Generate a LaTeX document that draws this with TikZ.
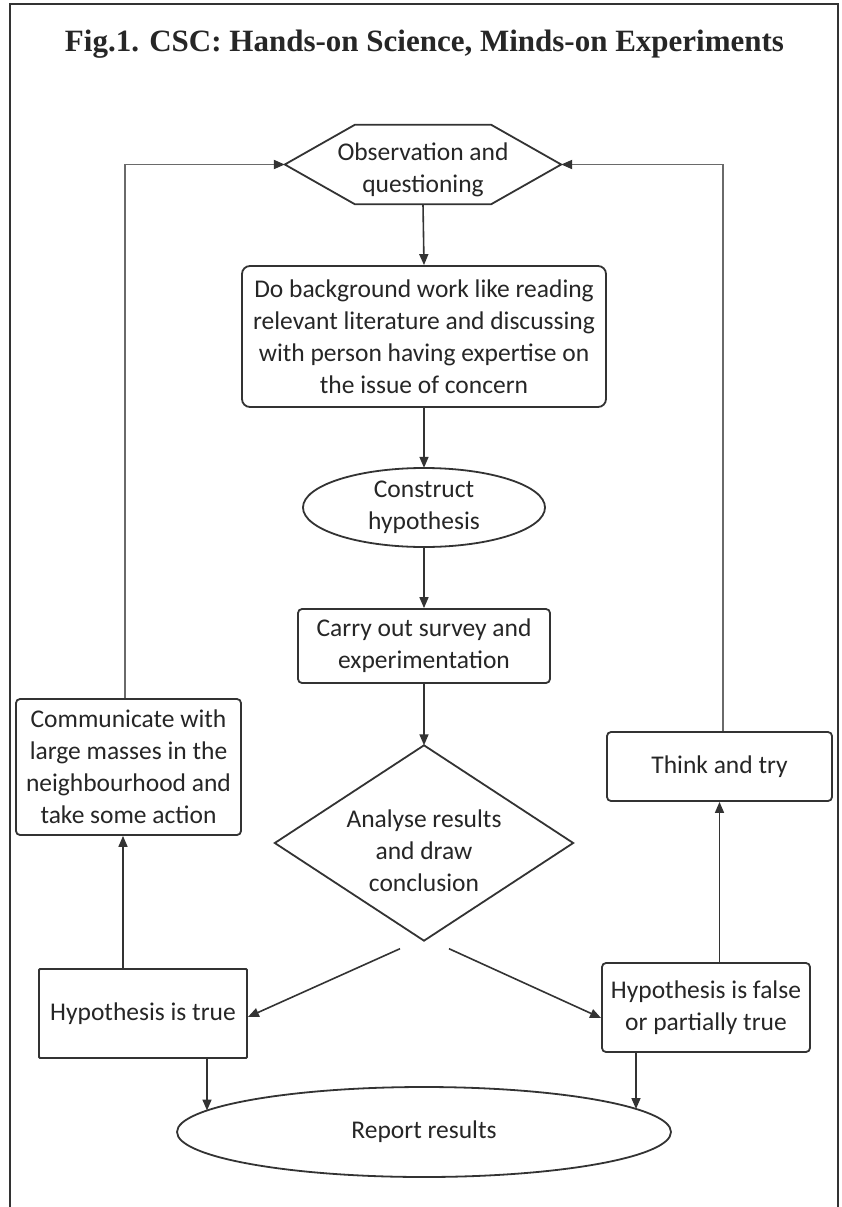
\documentclass[tikz,border=0pt]{standalone}
\usepackage{fontspec}
\setmainfont{Carlito}
\newfontfamily\titlefont{Liberation Serif}
\usetikzlibrary{arrows.meta}
\definecolor{ln}{HTML}{333333}
\definecolor{fb}{HTML}{6A6A6A}
\definecolor{tx}{HTML}{262626}
\definecolor{fr}{HTML}{333333}
\begin{document}
\begin{tikzpicture}[x=1pt,y=-1pt,
  txt/.style={font=\fontsize{25.5}{32}\selectfont, text=tx, align=center, inner sep=0pt},
  rbox/.style={txt, draw=ln, line width=1.8pt, rounded corners=4pt},
  shp/.style={draw=ln, line width=1.8pt},
  arr/.style={draw=ln, line width=1.6pt, -{Triangle[length=11pt,width=9pt]}},
  arrfb/.style={draw=fb, line width=1.9pt, -{Triangle[length=11pt,width=9pt,color=ln]}, fill=none},
  titlef/.style={font=\titlefont\bfseries\fontsize{31}{36}\selectfont, text=tx, inner sep=0pt}
]
\useasboundingbox (0,0) rectangle (842,1207);
\fill[white] (0,0) rectangle (842,1207);
\draw[line width=2.2pt, draw=fr] (10,1207) -- (10,4) -- (838,4) -- (838,1207);

\node[titlef, anchor=base] (title) at (424.5,52) {Fig.1. CSC: Hands-on Science, Minds-on Experiments};

% hexagon
\node[inner sep=0pt, minimum width=276pt, minimum height=79pt] (obs) at (423,164.5) {};
\draw[shp] (obs.west) -- ([xshift=70pt]obs.north west) -- ([xshift=-70pt]obs.north east)
  -- (obs.east) -- ([xshift=-70pt]obs.south east) -- ([xshift=70pt]obs.south west) -- cycle;
\node[txt] (obstext) at ([yshift=-5pt]obs.center) {Observation and\\questioning};

\node[rbox, rounded corners=8pt, minimum width=364pt, minimum height=141pt] (bg) at (424,336.5)
  {Do background work like reading\\relevant literature and discussing\\with person having expertise on\\the issue of concern};

\node[txt, minimum width=242pt, minimum height=79pt] (hyp) at (424,507.5) {Construct\\hypothesis};
\draw[shp] (hyp.center) ellipse [x radius=121pt, y radius=39.5pt];

\node[rbox, minimum width=252pt, minimum height=74pt] (carry) at (424,646) {Carry out survey and\\experimentation};

\node[inner sep=0pt, minimum width=298pt, minimum height=195pt] (dia) at (424,843) {};
\draw[shp] (dia.north) -- (dia.east) -- (dia.south) -- (dia.west) -- cycle;
\node[txt] (diatext) at ([yshift=-7.5pt]dia.center) {Analyse results\\and draw\\conclusion};

\node[rbox, minimum width=225pt, minimum height=136pt] (com) at (128.5,767)
  {Communicate with\\large masses in the\\neighbourhood and\\take some action};
\node[rbox, minimum width=225pt, minimum height=69pt] (think) at (719.5,766.5) {Think and try};

\node[rbox, rounded corners=1pt, minimum width=208pt, minimum height=89pt] (ht) at (143,1013.5) {Hypothesis is true};
\node[rbox, minimum width=208pt, minimum height=89pt] (hf) at (706,1007.5) {Hypothesis is false\\or partially true};

\node[txt, minimum width=494pt, minimum height=90pt] (rep) at (424,1132) {Report results};
\draw[shp] (rep.center) ellipse [x radius=247pt, y radius=45pt];

% connectors
\draw[arr] (obs.south) -- (bg.north);
\draw[arr] (bg.south) -- (hyp.north);
\draw[arr] (hyp.south) -- (carry.north);
\draw[arr] (carry.south) -- (dia.north);
\coordinate (dl) at ([xshift=-24pt,yshift=-8pt]dia.south);
\coordinate (dr) at ([xshift=25pt,yshift=-8pt]dia.south);
\draw[arr] (dl) -- ([yshift=-3.5pt]ht.east);
\draw[arr] (dr) -- ([yshift=-10.5pt]hf.west);
\draw[arr] ([xshift=64pt]ht.south) -- ([xshift=-217pt,yshift=21.5pt]rep.center);
\draw[arr] ([xshift=-70pt]hf.south) -- ([xshift=212pt,yshift=23pt]rep.center);
\draw[arr] ([xshift=-20pt]ht.north) -- ([xshift=-20pt]ht.north |- com.south);
\draw[arr] (hf.north -| think.south) -- (think.south);
\draw[arrfb] ([xshift=-3.5pt]com.north) -- ([xshift=-3.5pt]com.north |- obs.west) -- (obs.west);
\draw[arrfb] ([xshift=3.5pt]think.north) -- ([xshift=3.5pt]think.north |- obs.east) -- (obs.east);
\end{tikzpicture}
\end{document}
